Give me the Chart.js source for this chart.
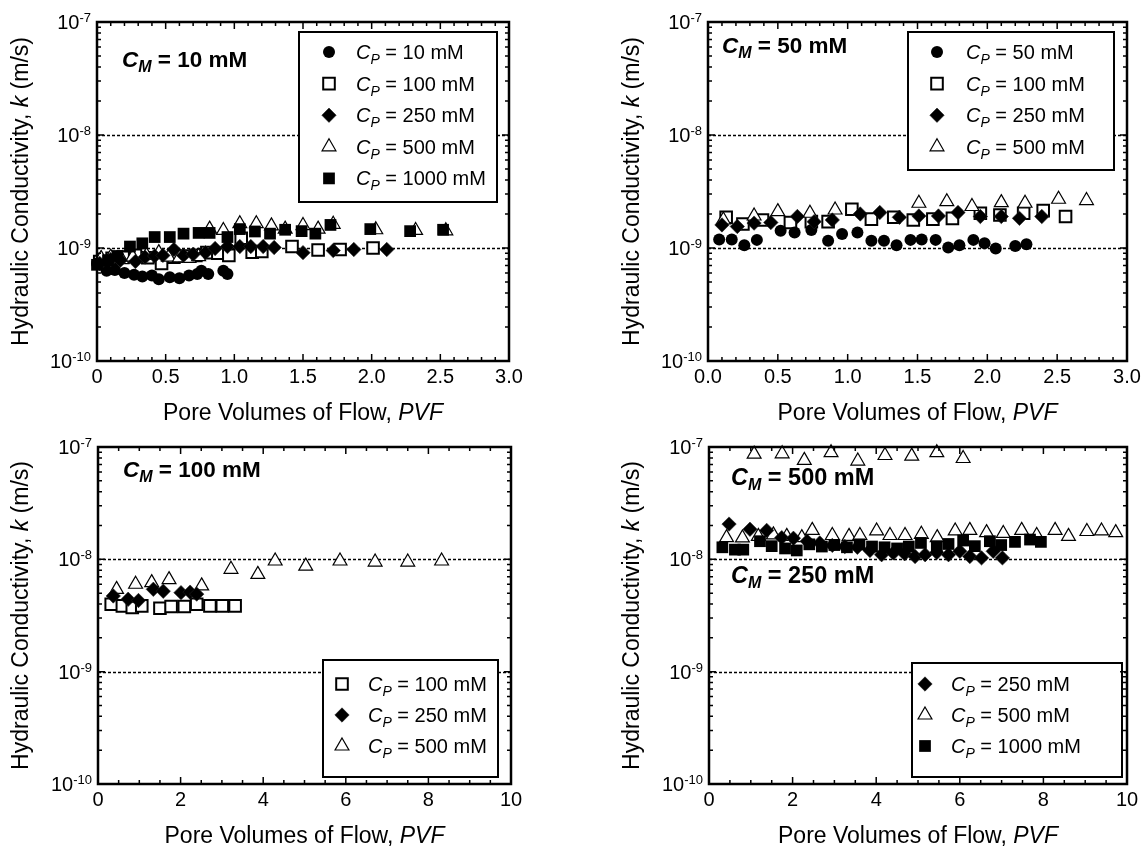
<!DOCTYPE html>
<html>
<head>
<meta charset="utf-8">
<script src="https://cdn.jsdelivr.net/npm/chart.js@4.4.1/dist/chart.umd.min.js"></script>
<style>
  body { margin: 0; background: #fff; }
  canvas { position: absolute; }
</style>
</head>
<body>
<canvas id="c1" width="573" height="423" style="left:0;top:0"></canvas>
<canvas id="c2" width="573" height="423" style="left:573px;top:0"></canvas>
<canvas id="c3" width="573" height="423" style="left:0;top:423px"></canvas>
<canvas id="c4" width="573" height="423" style="left:573px;top:423px"></canvas>
<script>
// ---------------- data (x = pore volumes of flow, k = hydraulic conductivity m/s) ----------------
// C_M = 10 mM
const m10_p10_x = [0.0, 0.07, 0.13, 0.2, 0.27, 0.33, 0.4, 0.45, 0.53, 0.6, 0.67, 0.73, 0.76, 0.81, 0.92, 0.95];
const m10_p10_k = [7.3e-10, 6.3e-10, 6.4e-10, 6.0e-10, 5.8e-10, 5.6e-10, 5.7e-10, 5.3e-10, 5.5e-10, 5.4e-10, 5.7e-10, 5.9e-10, 6.3e-10, 5.9e-10, 6.3e-10, 5.9e-10];
const m10_p100_x = [0.02, 0.11, 0.19, 0.28, 0.37, 0.47, 0.56, 0.64, 0.72, 0.80, 0.88, 0.96, 1.05, 1.13, 1.20, 1.42, 1.61, 1.77, 2.01];
const m10_p100_k = [7.6e-10, 8.1e-10, 8.3e-10, 8.6e-10, 8.2e-10, 7.3e-10, 8.3e-10, 8.5e-10, 8.6e-10, 9.1e-10, 9.0e-10, 8.6e-10, 1.22e-9, 9.2e-10, 9.3e-10, 1.03e-9, 9.6e-10, 9.7e-10, 1.0e-9];
const m10_p250_x = [0.02, 0.10, 0.17, 0.28, 0.35, 0.42, 0.48, 0.56, 0.63, 0.70, 0.79, 0.86, 0.95, 1.04, 1.12, 1.21, 1.29, 1.50, 1.72, 1.87, 2.11];
const m10_p250_k = [7.3e-10, 7.9e-10, 7.8e-10, 7.6e-10, 8.3e-10, 8.5e-10, 8.6e-10, 9.7e-10, 8.6e-10, 8.8e-10, 9.1e-10, 9.9e-10, 1.03e-9, 1.03e-9, 1.03e-9, 1.03e-9, 1.01e-9, 9.1e-10, 9.5e-10, 9.7e-10, 9.7e-10];
const m10_p500_x = [0.03, 0.10, 0.18, 0.26, 0.36, 0.45, 0.52, 0.60, 0.67, 0.74, 0.82, 0.92, 1.04, 1.16, 1.27, 1.37, 1.50, 1.61, 1.72, 2.03, 2.32, 2.54];
const m10_p500_k = [8.1e-10, 8.3e-10, 7.9e-10, 8.3e-10, 8.6e-10, 9.1e-10, 8.3e-10, 8.2e-10, 8.1e-10, 8.4e-10, 1.47e-9, 1.43e-9, 1.64e-9, 1.64e-9, 1.57e-9, 1.47e-9, 1.58e-9, 1.47e-9, 1.62e-9, 1.45e-9, 1.43e-9, 1.42e-9];
const m10_p1000_x = [0.0, 0.08, 0.15, 0.24, 0.33, 0.42, 0.53, 0.63, 0.74, 0.82, 0.95, 1.04, 1.15, 1.26, 1.37, 1.49, 1.59, 1.70, 1.99, 2.28, 2.52];
const m10_p1000_k = [7.1e-10, 7.8e-10, 8.5e-10, 1.03e-9, 1.10e-9, 1.25e-9, 1.25e-9, 1.34e-9, 1.36e-9, 1.36e-9, 1.25e-9, 1.47e-9, 1.40e-9, 1.34e-9, 1.45e-9, 1.41e-9, 1.34e-9, 1.60e-9, 1.47e-9, 1.41e-9, 1.45e-9];

// C_M = 50 mM
const m50_p50_x = [0.08, 0.17, 0.26, 0.35, 0.52, 0.62, 0.74, 0.86, 0.96, 1.07, 1.17, 1.26, 1.35, 1.45, 1.53, 1.63, 1.72, 1.80, 1.90, 1.98, 2.06, 2.20, 2.28];
const m50_p50_k = [1.19e-9, 1.19e-9, 1.06e-9, 1.18e-9, 1.42e-9, 1.37e-9, 1.44e-9, 1.16e-9, 1.33e-9, 1.37e-9, 1.16e-9, 1.16e-9, 1.06e-9, 1.18e-9, 1.19e-9, 1.18e-9, 1.01e-9, 1.06e-9, 1.18e-9, 1.10e-9, 0.99e-9, 1.04e-9, 1.08e-9];
const m50_p100_x = [0.13, 0.25, 0.39, 0.59, 0.74, 0.86, 1.03, 1.17, 1.33, 1.47, 1.61, 1.75, 1.95, 2.09, 2.26, 2.40, 2.56];
const m50_p100_k = [1.87e-9, 1.63e-9, 1.77e-9, 1.68e-9, 1.71e-9, 1.71e-9, 2.2e-9, 1.80e-9, 1.87e-9, 1.77e-9, 1.80e-9, 1.83e-9, 2.03e-9, 1.96e-9, 2.03e-9, 2.14e-9, 1.90e-9];
const m50_p250_x = [0.10, 0.21, 0.33, 0.45, 0.64, 0.76, 0.89, 1.09, 1.23, 1.37, 1.51, 1.65, 1.79, 1.95, 2.10, 2.23, 2.39];
const m50_p250_k = [1.6e-9, 1.55e-9, 1.66e-9, 1.68e-9, 1.90e-9, 1.71e-9, 1.77e-9, 2.0e-9, 2.06e-9, 1.87e-9, 1.92e-9, 1.92e-9, 2.06e-9, 1.90e-9, 1.90e-9, 1.83e-9, 1.90e-9];
const m50_p500_x = [0.11, 0.33, 0.50, 0.73, 0.91, 1.51, 1.71, 1.89, 2.10, 2.27, 2.51, 2.71];
const m50_p500_k = [1.77e-9, 1.92e-9, 2.1e-9, 2.03e-9, 2.17e-9, 2.49e-9, 2.57e-9, 2.33e-9, 2.52e-9, 2.49e-9, 2.7e-9, 2.63e-9];

// C_M = 100 mM
const m100_p100_x = [0.32, 0.59, 0.83, 1.06, 1.50, 1.77, 2.09, 2.39, 2.71, 3.01, 3.32];
const m100_p100_k = [3.98e-9, 3.85e-9, 3.72e-9, 3.85e-9, 3.67e-9, 3.8e-9, 3.8e-9, 3.98e-9, 3.85e-9, 3.85e-9, 3.85e-9];
const m100_p250_x = [0.37, 0.73, 0.98, 1.34, 1.58, 2.01, 2.23, 2.39];
const m100_p250_k = [4.72e-9, 4.41e-9, 4.3e-9, 5.41e-9, 5.2e-9, 5.05e-9, 5.1e-9, 4.9e-9];
const m100_p500_x = [0.45, 0.91, 1.30, 1.72, 2.51, 3.22, 3.87, 4.29, 5.03, 5.86, 6.71, 7.50, 8.32];
const m100_p500_k = [5.4e-9, 6.0e-9, 6.2e-9, 6.6e-9, 5.8e-9, 8.15e-9, 7.35e-9, 9.66e-9, 8.7e-9, 9.66e-9, 9.46e-9, 9.46e-9, 9.66e-9];

// C_M = 500 mM (upper) and C_M = 250 mM (lower)
const m500_p500_x = [1.08, 1.75, 2.28, 2.92, 3.56, 4.21, 4.85, 5.45, 6.08];
const m500_p500_k = [8.65e-8, 8.7e-8, 7.6e-8, 8.9e-8, 7.5e-8, 8.4e-8, 8.3e-8, 8.9e-8, 7.9e-8];
const m250_p250_x = [0.48, 0.98, 1.38, 1.74, 2.02, 2.35, 2.65, 2.95, 3.25, 3.55, 3.85, 4.13, 4.41, 4.68, 4.93, 5.17, 5.45, 5.73, 6.0, 6.24, 6.52, 6.80, 7.02];
const m250_p250_k = [2.06e-8, 1.85e-8, 1.81e-8, 1.56e-8, 1.54e-8, 1.45e-8, 1.4e-8, 1.33e-8, 1.3e-8, 1.28e-8, 1.2e-8, 1.1e-8, 1.14e-8, 1.12e-8, 1.06e-8, 1.1e-8, 1.15e-8, 1.1e-8, 1.18e-8, 1.06e-8, 1.03e-8, 1.18e-8, 1.03e-8];
const m250_p500_x = [0.42, 0.80, 1.18, 1.54, 1.86, 2.22, 2.47, 2.95, 3.35, 3.61, 4.01, 4.33, 4.69, 5.08, 5.46, 5.89, 6.24, 6.64, 7.04, 7.48, 7.84, 8.28, 8.60, 9.04, 9.39, 9.73];
const m250_p500_k = [1.56e-8, 1.55e-8, 1.6e-8, 1.65e-8, 1.6e-8, 1.56e-8, 1.81e-8, 1.63e-8, 1.6e-8, 1.63e-8, 1.79e-8, 1.63e-8, 1.63e-8, 1.67e-8, 1.56e-8, 1.79e-8, 1.81e-8, 1.73e-8, 1.7e-8, 1.81e-8, 1.63e-8, 1.81e-8, 1.6e-8, 1.77e-8, 1.79e-8, 1.73e-8];
const m250_p1000_x = [0.32, 0.62, 0.82, 1.22, 1.50, 1.82, 2.10, 2.40, 2.70, 3.00, 3.30, 3.60, 3.90, 4.20, 4.50, 4.78, 5.07, 5.45, 5.73, 6.08, 6.36, 6.72, 6.99, 7.32, 7.68, 7.94];
const m250_p1000_k = [1.28e-8, 1.22e-8, 1.22e-8, 1.45e-8, 1.31e-8, 1.25e-8, 1.2e-8, 1.36e-8, 1.3e-8, 1.34e-8, 1.28e-8, 1.36e-8, 1.3e-8, 1.28e-8, 1.25e-8, 1.3e-8, 1.4e-8, 1.31e-8, 1.37e-8, 1.47e-8, 1.31e-8, 1.45e-8, 1.34e-8, 1.43e-8, 1.5e-8, 1.43e-8];

// tick labels
const xTickVals3 = [0, 0.5, 1.0, 1.5, 2.0, 2.5, 3.0];
const xTickText1 = ['0', '0.5', '1.0', '1.5', '2.0', '2.5', '3.0'];
const xTickText2 = ['0.0', '0.5', '1.0', '1.5', '2.0', '2.5', '3.0'];
const xTickVals10 = [0, 2, 4, 6, 8, 10];
const xTickText10 = ['0', '2', '4', '6', '8', '10'];
const yTickExp = [-7, -8, -9, -10];

// ---------------- styles ----------------
const FONT = '"Liberation Sans", Arial, Helvetica, sans-serif';
function font(size, style) { return (style ? style + ' ' : '') + size + 'px ' + FONT; }

const mk = {
  circle:  { pointStyle: 'circle',  pointRadius: 6,   pointBackgroundColor: '#000', pointBorderColor: '#000', pointBorderWidth: 0 },
  openSq:  { pointStyle: 'rect',    pointRadius: 8.2, pointBackgroundColor: '#fff', pointBorderColor: '#000', pointBorderWidth: 2 },
  diamond: { pointStyle: 'rectRot', pointRadius: 7.2, pointBackgroundColor: '#000', pointBorderColor: '#222', pointBorderWidth: 0.6 },
  tri:     { pointStyle: 'triangle',pointRadius: 8,   pointBackgroundColor: '#fff', pointBorderColor: '#000', pointBorderWidth: 1.2 },
  fillSq:  { pointStyle: 'rect',    pointRadius: 8.3, pointBackgroundColor: '#000', pointBorderColor: '#000', pointBorderWidth: 0 }
};
const zOrder = { fillSq: 1, diamond: 2, circle: 3, tri: 4, openSq: 5 };

function pts(xs, ks) { return xs.map((x, i) => ({ x: x, y: ks[i] })); }

function cp(v) {
  return [{ t: 'C', f: font(20, 'italic') }, { t: 'P', f: font(14, 'italic'), dy: 5 }, { t: ' = ' + v + ' mM', f: font(20) }];
}
function cm(v, s) {
  return [{ t: 'C', f: font(s, 'italic bold') }, { t: 'M', f: font(Math.round(s * 0.7), 'italic bold'), dy: 5 }, { t: ' = ' + v + ' mM', f: font(s, 'bold') }];
}

// ---------------- panels ----------------
const panels = [
  {
    id: 'c1', pad: { left: 97, right: 64, top: 22, bottom: 62 },
    xMax: 3, xMinor: 0.1, xMajor: 0.5, xTickVals: xTickVals3, xTickText: xTickText1,
    series: [
      { m: 'circle', x: m10_p10_x, k: m10_p10_k, lab: '10' },
      { m: 'openSq', x: m10_p100_x, k: m10_p100_k, lab: '100' },
      { m: 'diamond', x: m10_p250_x, k: m10_p250_k, lab: '250' },
      { m: 'tri', x: m10_p500_x, k: m10_p500_k, lab: '500' },
      { m: 'fillSq', x: m10_p1000_x, k: m10_p1000_k, lab: '1000' }
    ],
    legend: { x: 299, y: 32, w: 198, h: 170, row0: 52, step: 31.6, sx: 329, tx: 356 },
    notes: [{ v: '10', x: 122, y: 67, s: 22.5 }],
    yTitleX: 28
  },
  {
    id: 'c2', pad: { left: 135, right: 19, top: 22, bottom: 62 },
    xMax: 3, xMinor: 0.1, xMajor: 0.5, xTickVals: xTickVals3, xTickText: xTickText2,
    series: [
      { m: 'circle', x: m50_p50_x, k: m50_p50_k, lab: '50' },
      { m: 'openSq', x: m50_p100_x, k: m50_p100_k, lab: '100' },
      { m: 'diamond', x: m50_p250_x, k: m50_p250_k, lab: '250' },
      { m: 'tri', x: m50_p500_x, k: m50_p500_k, lab: '500' }
    ],
    legend: { x: 335, y: 32, w: 206, h: 138, row0: 52, step: 31.6, sx: 364, tx: 393 },
    notes: [{ v: '50', x: 149, y: 53, s: 22.5 }],
    yTitleX: 66
  },
  {
    id: 'c3', pad: { left: 98, right: 62, top: 24, bottom: 62 },
    xMax: 10, xMinor: 0.5, xMajor: 2, xTickVals: xTickVals10, xTickText: xTickText10,
    series: [
      { m: 'openSq', x: m100_p100_x, k: m100_p100_k, lab: '100' },
      { m: 'diamond', x: m100_p250_x, k: m100_p250_k, lab: '250' },
      { m: 'tri', x: m100_p500_x, k: m100_p500_k, lab: '500' }
    ],
    legend: { x: 323, y: 237, w: 175, h: 117, row0: 261, step: 31, sx: 342, tx: 368 },
    notes: [{ v: '100', x: 123, y: 54, s: 22.5 }],
    yTitleX: 28
  },
  {
    id: 'c4', pad: { left: 136, right: 19, top: 24, bottom: 62 },
    xMax: 10, xMinor: 0.5, xMajor: 2, xTickVals: xTickVals10, xTickText: xTickText10,
    series: [
      { m: 'diamond', x: m250_p250_x, k: m250_p250_k, lab: '250' },
      { m: 'tri', x: m250_p500_x, k: m250_p500_k, lab: '500' },
      { m: 'fillSq', x: m250_p1000_x, k: m250_p1000_k, lab: '1000' },
      { m: 'tri', x: m500_p500_x, k: m500_p500_k, lab: null }
    ],
    legend: { x: 339, y: 240, w: 210, h: 114, row0: 261, step: 31, sx: 352, tx: 378 },
    notes: [{ v: '500', x: 158, y: 62, s: 23.5 }, { v: '250', x: 158, y: 160, s: 23.5 }],
    yTitleX: 66
  }
];

// ---------------- drawing helpers ----------------
function drawRich(ctx, segs, x, y, align) {
  let w = 0;
  segs.forEach(s => { ctx.font = s.f; w += ctx.measureText(s.t).width; });
  let cx = align === 'right' ? x - w : align === 'center' ? x - w / 2 : x;
  ctx.textBaseline = 'alphabetic';
  ctx.textAlign = 'left';
  segs.forEach(s => {
    ctx.font = s.f;
    ctx.fillText(s.t, cx, y + (s.dy || 0));
    cx += ctx.measureText(s.t).width;
  });
}

function drawMarker(ctx, st, x, y) {
  ctx.save();
  ctx.fillStyle = st.pointBackgroundColor;
  ctx.strokeStyle = st.pointBorderColor;
  ctx.lineWidth = st.pointBorderWidth;
  Chart.helpers.drawPoint(ctx, { pointStyle: st.pointStyle, radius: st.pointRadius, borderWidth: st.pointBorderWidth, rotation: 0 }, x, y);
  ctx.restore();
}

function makeDecor(p) {
  return {
    id: 'decor',
    beforeDatasetsDraw(chart) {
      const ctx = chart.ctx, a = chart.chartArea, ys = chart.scales.y;
      ctx.save();
      ctx.strokeStyle = '#000';
      ctx.lineWidth = 1.4;
      ctx.setLineDash([3, 2]);
      [1e-8, 1e-9].forEach(v => {
        const py = Math.round(ys.getPixelForValue(v)) + 0.5;
        ctx.beginPath(); ctx.moveTo(a.left, py); ctx.lineTo(a.right, py); ctx.stroke();
      });
      ctx.restore();
    },
    afterDatasetsDraw(chart) {
      const ctx = chart.ctx, a = chart.chartArea, xs = chart.scales.x, ys = chart.scales.y;
      ctx.save();
      ctx.fillStyle = '#000';
      ctx.strokeStyle = '#000';

      // legend
      const L = p.legend;
      ctx.fillStyle = '#fff';
      ctx.fillRect(L.x, L.y, L.w, L.h);
      ctx.lineWidth = 2;
      ctx.strokeRect(L.x, L.y, L.w, L.h);
      ctx.fillStyle = '#000';
      let r = 0;
      p.series.forEach(s => {
        if (!s.lab) return;
        const cy = L.row0 + r * L.step;
        drawMarker(ctx, mk[s.m], L.sx, cy);
        ctx.fillStyle = '#000';
        drawRich(ctx, cp(s.lab), L.tx, cy + 7, 'left');
        r++;
      });

      // notes
      p.notes.forEach(n => drawRich(ctx, cm(n.v, n.s), n.x, n.y, 'left'));

      // ticks
      ctx.lineWidth = 1.5;
      ctx.setLineDash([]);
      const nx = Math.round(p.xMax / p.xMinor);
      for (let i = 0; i <= nx; i++) {
        const v = i * p.xMinor;
        const q = v / p.xMajor;
        const len = Math.abs(q - Math.round(q)) < 1e-6 ? 7 : 4;
        const px = xs.getPixelForValue(v);
        ctx.beginPath();
        ctx.moveTo(px, a.bottom); ctx.lineTo(px, a.bottom - len);
        ctx.moveTo(px, a.top); ctx.lineTo(px, a.top + len);
        ctx.stroke();
      }
      for (let e = -10; e <= -7; e++) {
        for (let m = 1; m <= 9; m++) {
          if (e === -7 && m > 1) break;
          const py = ys.getPixelForValue(m * Math.pow(10, e));
          const len = m === 1 ? 7 : 4;
          ctx.beginPath();
          ctx.moveTo(a.left, py); ctx.lineTo(a.left + len, py);
          ctx.moveTo(a.right, py); ctx.lineTo(a.right - len, py);
          ctx.stroke();
        }
      }

      // frame
      ctx.lineWidth = 2.5;
      ctx.strokeRect(a.left, a.top, a.right - a.left, a.bottom - a.top);

      // tick labels
      ctx.fillStyle = '#000';
      p.xTickVals.forEach((v, i) => {
        drawRich(ctx, [{ t: p.xTickText[i], f: font(20) }], xs.getPixelForValue(v), a.bottom + 22, 'center');
      });
      yTickExp.forEach(e => {
        const py = ys.getPixelForValue(Math.pow(10, e));
        drawRich(ctx, [{ t: '10', f: font(20) }, { t: String(e), f: font(13), dy: -7 }], a.left - 6, py + 7, 'right');
      });

      // axis titles
      drawRich(ctx, [{ t: 'Pore Volumes of Flow, ', f: font(23) }, { t: 'PVF', f: font(23, 'italic') }],
        (a.left + a.right) / 2, a.bottom + 59, 'center');
      ctx.save();
      ctx.translate(p.yTitleX, (a.top + a.bottom) / 2);
      ctx.rotate(-Math.PI / 2);
      drawRich(ctx, [{ t: 'Hydraulic Conductivity, ', f: font(23) }, { t: 'k', f: font(23, 'italic') }, { t: ' (m/s)', f: font(23) }], 0, 0, 'center');
      ctx.restore();

      ctx.restore();
    }
  };
}

// ---------------- charts ----------------
panels.forEach(p => {
  const datasets = p.series.map(s => Object.assign({
    label: s.lab ? 'CP = ' + s.lab + ' mM' : 'CP = 500 mM (CM = 500 mM)',
    data: pts(s.x, s.k),
    showLine: false,
    clip: false,
    order: zOrder[s.m]
  }, mk[s.m], { pointHoverRadius: mk[s.m].pointRadius }));

  new Chart(document.getElementById(p.id), {
    type: 'scatter',
    data: { datasets: datasets },
    options: {
      responsive: false,
      animation: false,
      events: [],
      layout: { padding: p.pad },
      plugins: { legend: { display: false }, tooltip: { enabled: false } },
      scales: {
        x: { type: 'linear', min: 0, max: p.xMax, display: false },
        y: { type: 'logarithmic', min: 1e-10, max: 1e-7, display: false }
      }
    },
    plugins: [makeDecor(p)]
  });
});
</script>
</body>
</html>
